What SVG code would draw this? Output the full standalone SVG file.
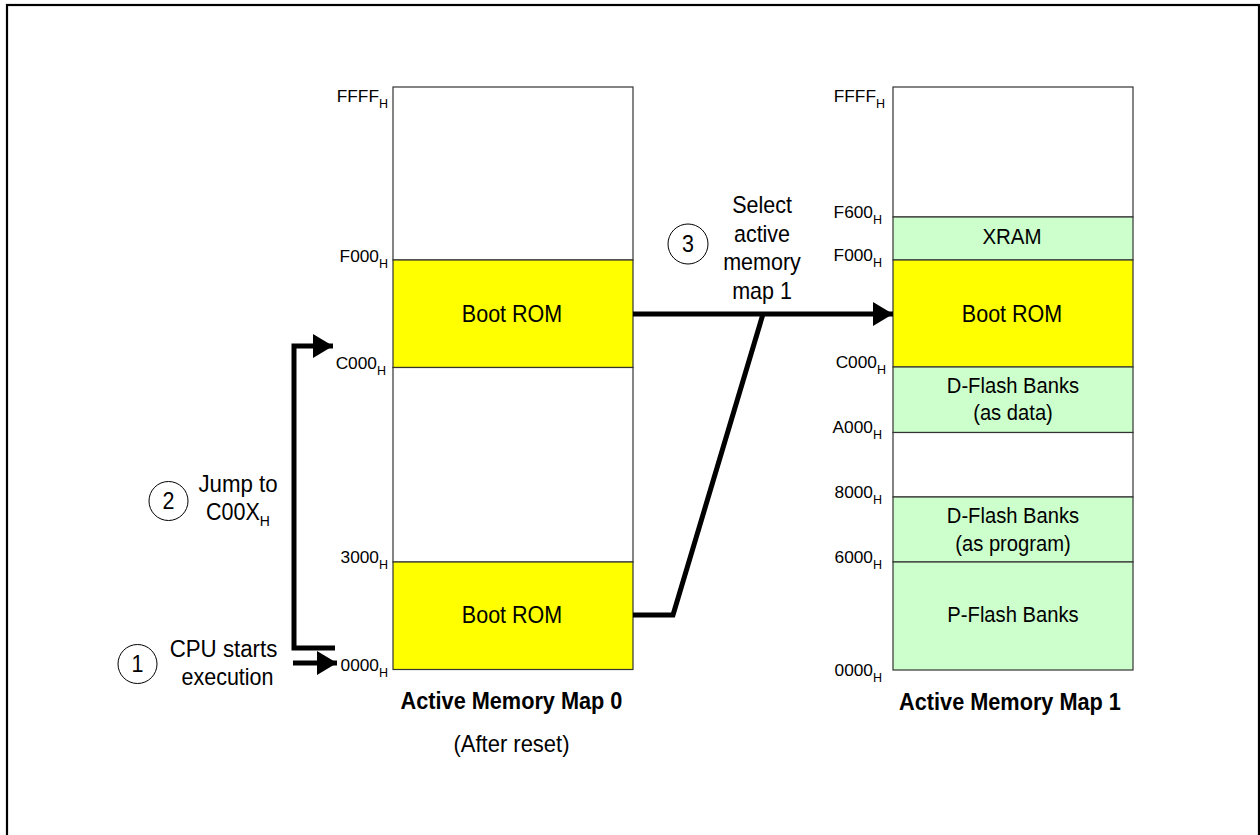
<svg xmlns="http://www.w3.org/2000/svg" width="1260" height="835" viewBox="0 0 1260 835">
<style>
text{font-family:"Liberation Sans",Arial,sans-serif;fill:#000}
.lbl{font-size:21.5px;text-anchor:middle}
.addr{font-size:17.3px;text-anchor:end}
.sub{font-size:12.5px}
.title{font-size:21.7px;font-weight:bold;text-anchor:middle}
.blk{stroke:#333;stroke-width:1.2}
.yel{fill:#FFFF00}
.grn{fill:#CCFFCC}
.wht{fill:#FFFFFF}
.conn{fill:none;stroke:#000;stroke-width:5;stroke-linejoin:miter}
.circ{fill:#fff;stroke:#000;stroke-width:1}
</style>
<defs>
<marker id="ah" viewBox="0 0 20 24" refX="20" refY="12" markerWidth="20" markerHeight="24" markerUnits="userSpaceOnUse" orient="auto">
<path d="M0,0 L20,12 L0,24 Z" fill="#000"/>
</marker>
</defs>
<rect x="7" y="5" width="1252" height="900" fill="#fff" stroke="#000" stroke-width="2.2"/>

<g id="map0">
<rect class="blk wht" x="393" y="87" width="240" height="173"/>
<rect class="blk yel" x="393" y="260" width="240" height="107.5"/>
<rect class="blk wht" x="393" y="367.5" width="240" height="194.5"/>
<rect class="blk yel" x="393" y="562" width="240" height="107.5"/>
<text class="lbl" transform="matrix(1 0 0 1.08 512 322)">Boot ROM</text>
<text class="lbl" transform="matrix(1 0 0 1.08 512 623)">Boot ROM</text>
<text class="addr" x="388" y="102">FFFF<tspan class="sub" dy="6">H</tspan></text>
<text class="addr" x="388" y="262">F000<tspan class="sub" dy="6">H</tspan></text>
<text class="addr" x="386" y="369">C000<tspan class="sub" dy="6">H</tspan></text>
<text class="addr" x="388" y="563">3000<tspan class="sub" dy="6">H</tspan></text>
<text class="addr" x="388" y="671">0000<tspan class="sub" dy="6">H</tspan></text>
<text class="title" transform="matrix(1 0 0 1.08 511.5 709)">Active Memory Map 0</text>
<text class="lbl" transform="matrix(1 0 0 1.08 511.5 752)" style="font-size:22px">(After reset)</text>
</g>

<g id="map1">
<rect class="blk wht" x="893" y="87" width="240" height="130"/>
<rect class="blk grn" x="893" y="217" width="240" height="43"/>
<rect class="blk yel" x="893" y="260" width="240" height="107"/>
<rect class="blk grn" x="893" y="367" width="240" height="65.5"/>
<rect class="blk wht" x="893" y="432.5" width="240" height="64.5"/>
<rect class="blk grn" x="893" y="497" width="240" height="65"/>
<rect class="blk grn" x="893" y="562" width="240" height="108"/>
<text class="lbl" transform="matrix(1 0 0 1.08 1012 244)" style="font-size:20.5px">XRAM</text>
<text class="lbl" transform="matrix(1 0 0 1.08 1012 322)">Boot ROM</text>
<text class="lbl" transform="matrix(1 0 0 1.08 1013 393)" style="font-size:20.2px">D-Flash Banks</text>
<text class="lbl" transform="matrix(1 0 0 1.08 1013 420)" style="font-size:20.2px">(as data)</text>
<text class="lbl" transform="matrix(1 0 0 1.08 1013 523)" style="font-size:20.2px">D-Flash Banks</text>
<text class="lbl" transform="matrix(1 0 0 1.08 1013 551)" style="font-size:20.2px">(as program)</text>
<text class="lbl" transform="matrix(1 0 0 1.08 1013 622)" style="font-size:20.2px">P-Flash Banks</text>
<text class="addr" x="885" y="102">FFFF<tspan class="sub" dy="6">H</tspan></text>
<text class="addr" x="882" y="218">F600<tspan class="sub" dy="6">H</tspan></text>
<text class="addr" x="882" y="261">F000<tspan class="sub" dy="6">H</tspan></text>
<text class="addr" x="886" y="368">C000<tspan class="sub" dy="6">H</tspan></text>
<text class="addr" x="882" y="433">A000<tspan class="sub" dy="6">H</tspan></text>
<text class="addr" x="882" y="498">8000<tspan class="sub" dy="6">H</tspan></text>
<text class="addr" x="882" y="563">6000<tspan class="sub" dy="6">H</tspan></text>
<text class="addr" x="882" y="676">0000<tspan class="sub" dy="6">H</tspan></text>
<text class="title" transform="matrix(1 0 0 1.08 1010 710)">Active Memory Map 1</text>
</g>

<g id="step1">
<circle class="circ" cx="137.5" cy="664" r="19.5"/>
<text class="lbl" transform="matrix(1 0 0 1.08 137.5 672)">1</text>
<text class="lbl" transform="matrix(1 0 0 1.08 223.5 657)" style="font-size:22.3px">CPU starts</text>
<text class="lbl" transform="matrix(1 0 0 1.08 227.5 685)">execution</text>
</g>
<g id="step2">
<circle class="circ" cx="168.5" cy="501" r="19.5"/>
<text class="lbl" transform="matrix(1 0 0 1.08 168.5 509)">2</text>
<text class="lbl" transform="matrix(1 0 0 1.08 238 492)" style="font-size:22.3px">Jump to</text>
<text class="lbl" transform="matrix(1 0 0 1.08 238 520)">C00X<tspan class="sub" style="font-size:14px" dy="6">H</tspan></text>
</g>
<g id="step3">
<circle class="circ" cx="688" cy="244" r="20"/>
<text class="lbl" transform="matrix(1 0 0 1.08 688 252)">3</text>
<text class="lbl" transform="matrix(1 0 0 1.08 762 213)">Select</text>
<text class="lbl" transform="matrix(1 0 0 1.08 762 242)">active</text>
<text class="lbl" transform="matrix(1 0 0 1.08 762 270)">memory</text>
<text class="lbl" transform="matrix(1 0 0 1.08 762 299)">map 1</text>
</g>

<g id="connectors">
<polyline class="conn" points="335,648 294,648 294,346 333,346" marker-end="url(#ah)"/>
<line class="conn" x1="293" y1="663" x2="337" y2="663" marker-end="url(#ah)"/>
<line class="conn" x1="633" y1="314" x2="893" y2="314" marker-end="url(#ah)"/>
<polyline class="conn" points="633,615 673,615 763,314"/>
</g>
</svg>
